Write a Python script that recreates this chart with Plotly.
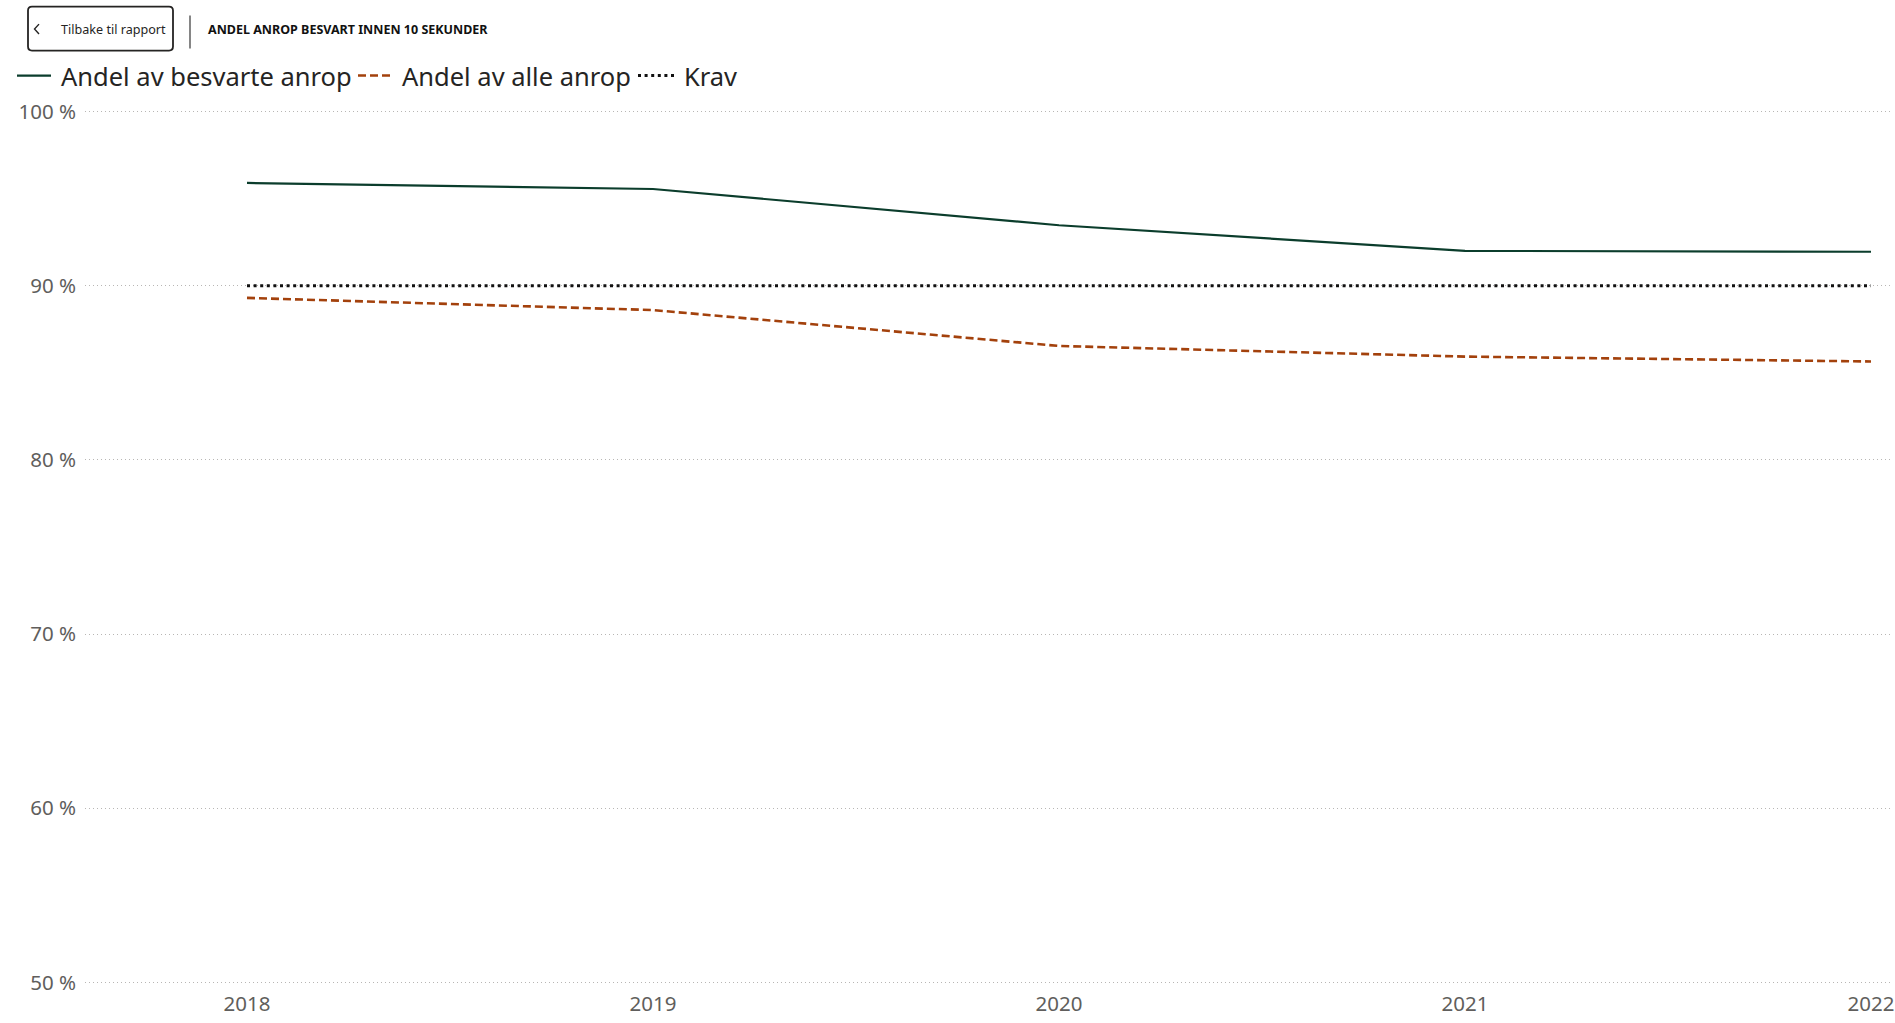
import plotly.graph_objects as go

years = [2018, 2019, 2020, 2021, 2022]
year_labels = ["2018", "2019", "2020", "2021", "2022"]
besvarte = [95.9, 95.55, 93.47, 92.0, 91.95]
alle = [89.3, 88.6, 86.54, 85.93, 85.65]
krav = [90, 90, 90, 90, 90]
series_names = ["Andel av besvarte anrop", "Andel av alle anrop", "Krav"]
y_ticks = [50, 60, 70, 80, 90, 100]
y_tick_labels = ["50 %", "60 %", "70 %", "80 %", "90 %", "100 %"]

W, H = 1895, 1023
L, R, T, B = 85, 2, 107.5, 36.5
PW, PH = W - L - R, H - T - B


def xp(px):
    return (px - L) / PW


def yp(py):
    return (H - B - py) / PH


FONT = "Segoe UI, Noto Sans, Open Sans, sans-serif"
styles = [
    dict(color="#0B3D2C", width=2.2, dash="solid"),
    dict(color="#A3410C", width=2.6, dash="8px,4px"),
    dict(color="#111111", width=3, dash="3px,3.6px"),
]

fig = go.Figure()
for vals, name, st in zip([besvarte, alle, krav], series_names, styles):
    fig.add_trace(go.Scatter(x=years, y=vals, mode="lines", name=name, line=st, showlegend=False))

shapes = []
# back button (rounded rect)
x0, x1, y0, y1, r = 28, 173, 6, 50, 4
path = (f"M {xp(x0 + r)},{yp(y0)} L {xp(x1 - r)},{yp(y0)} Q {xp(x1)},{yp(y0)} {xp(x1)},{yp(y0 + r)} "
        f"L {xp(x1)},{yp(y1 - r)} Q {xp(x1)},{yp(y1)} {xp(x1 - r)},{yp(y1)} "
        f"L {xp(x0 + r)},{yp(y1)} Q {xp(x0)},{yp(y1)} {xp(x0)},{yp(y1 - r)} "
        f"L {xp(x0)},{yp(y0 + r)} Q {xp(x0)},{yp(y0)} {xp(x0 + r)},{yp(y0)} Z")
shapes.append(dict(type="path", xref="paper", yref="paper", path=path,
                   line=dict(color="#252423", width=1.8), fillcolor="rgba(0,0,0,0)"))
# chevron
shapes.append(dict(type="path", xref="paper", yref="paper",
                   path=f"M {xp(39)},{yp(23.5)} L {xp(34.5)},{yp(28.5)} L {xp(39)},{yp(33.5)}",
                   line=dict(color="#252423", width=1.4)))
# separator
shapes.append(dict(type="line", xref="paper", yref="paper", x0=xp(190), x1=xp(190),
                   y0=yp(15), y1=yp(48), line=dict(color="#444444", width=1.3)))

annotations = [
    dict(text="Tilbake til rapport", xref="paper", yref="paper", x=xp(59), y=yp(29),
         xanchor="left", yanchor="middle", showarrow=False,
         font=dict(family=FONT, size=12.6, color="#252423")),
    dict(text="<b>ANDEL ANROP BESVART INNEN 10 SEKUNDER</b>", xref="paper", yref="paper",
         x=xp(206), y=yp(28.5), xanchor="left", yanchor="middle", showarrow=False,
         font=dict(family=FONT, size=12.5, color="#111111")),
]

# manual legend
legend_sym_x = [(17, 51), (358, 394), (638, 674)]
legend_text_x = [59, 400, 682]
LEG_Y = 75
for (sx0, sx1), tx, name, st in zip(legend_sym_x, legend_text_x, series_names, styles):
    shapes.append(dict(type="line", xref="paper", yref="paper", x0=xp(sx0), x1=xp(sx1),
                       y0=yp(LEG_Y), y1=yp(LEG_Y), line=st))
    annotations.append(dict(text=name, xref="paper", yref="paper", x=xp(tx), y=yp(LEG_Y),
                            xanchor="left", yanchor="middle", showarrow=False,
                            font=dict(family=FONT, size=25.5, color="#252423")))

fig.update_layout(
    width=W, height=H,
    margin=dict(l=L, r=R, t=T, b=B),
    paper_bgcolor="white", plot_bgcolor="white",
    font=dict(family=FONT, color="#252423"),
    shapes=shapes, annotations=annotations,
    showlegend=False,
    xaxis=dict(range=[2018 - 162 / 406, 2022 + 22 / 406], tickvals=years, ticktext=year_labels,
               showgrid=False, zeroline=False, showline=False, ticks="", ticklabelstandoff=3,
               tickfont=dict(family=FONT, size=20.5, color="#605E5C")),
    yaxis=dict(range=[50 - 3.5 / 17.43, 100 + 3.5 / 17.43], tickvals=y_ticks, ticktext=y_tick_labels,
               showgrid=True, gridcolor="#B8B6B4", gridwidth=1, griddash="1px,3px",
               zeroline=False, showline=False, ticks="", ticklabelstandoff=8,
               tickfont=dict(family=FONT, size=20.5, color="#605E5C")),
)

fig.write_html("out.html", config={"displayModeBar": False})
